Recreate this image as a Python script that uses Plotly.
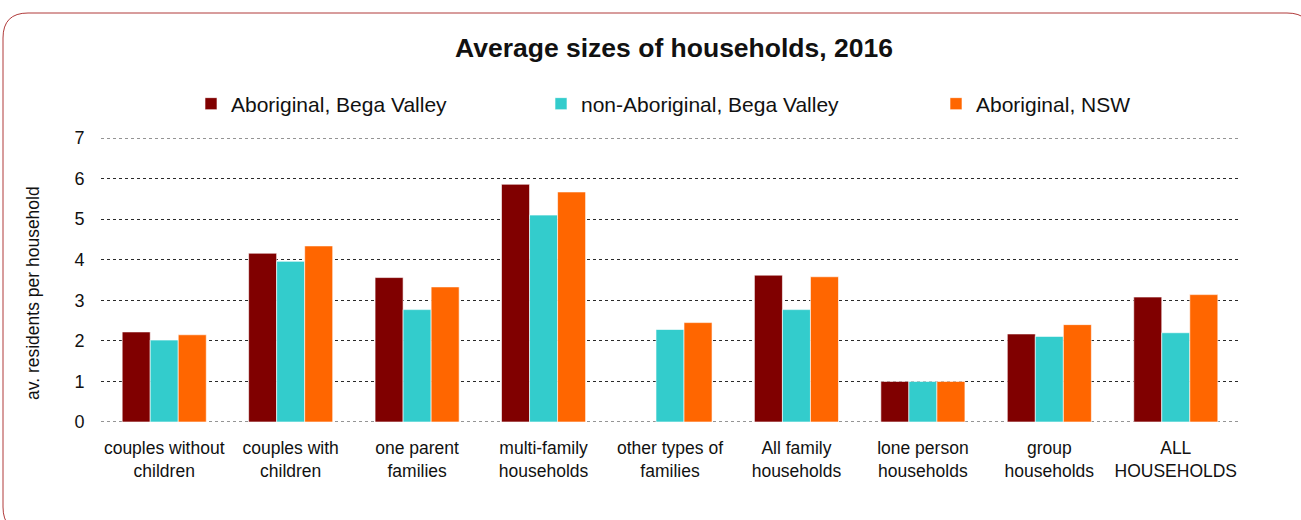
import plotly.graph_objects as go

categories = [
    "couples without<br>children",
    "couples with<br>children",
    "one parent<br>families",
    "multi-family<br>households",
    "other types of<br>families",
    "All family<br>households",
    "lone person<br>households",
    "group<br>households",
    "ALL<br>HOUSEHOLDS",
]
aboriginal_bega = [2.22, 4.16, 3.56, 5.86, None, 3.62, 1.00, 2.17, 3.08]
non_aboriginal_bega = [2.02, 3.96, 2.77, 5.10, 2.28, 2.77, 1.00, 2.11, 2.20]
aboriginal_nsw = [2.15, 4.34, 3.33, 5.67, 2.45, 3.58, 1.00, 2.40, 3.14]

series_names = ["Aboriginal, Bega Valley", "non-Aboriginal, Bega Valley", "Aboriginal, NSW"]
series_values = [aboriginal_bega, non_aboriginal_bega, aboriginal_nsw]
colors = ["#800000", "#33CCCC", "#FF6600"]
legend_ids = ["legend", "legend2", "legend3"]
y_ticks = [0, 1, 2, 3, 4, 5, 6, 7]

FONT = "Liberation Sans, Arial, sans-serif"

fig = go.Figure()
for name, vals, col, lg in zip(series_names, series_values, colors, legend_ids):
    fig.add_trace(go.Bar(
        x=categories, y=vals, name=name, legend=lg,
        marker=dict(color=col, line=dict(color="rgba(255,255,255,0.6)", width=1)),
    ))

# plot area in pixels: x 101..1239, y 138..422
W, H = 1301, 520
L, R, T, B = 101, 62, 138, 98
pw, ph = W - L - R, H - T - B

def px(x):
    return (x - L) / pw

def py(y):
    return (H - B - y) / ph

x0, x1, yt, yb = px(3), px(1312), py(13), py(532)
rx, ry = 25 / pw, 25 / ph
border = (f"M {x0+rx},{yt} L {x1-rx},{yt} Q {x1},{yt} {x1},{yt-ry} "
          f"L {x1},{yb+ry} Q {x1},{yb} {x1-rx},{yb} L {x0+rx},{yb} "
          f"Q {x0},{yb} {x0},{yb+ry} L {x0},{yt-ry} Q {x0},{yt} {x0+rx},{yt} Z")

legend_common = dict(orientation="h", yanchor="middle", y=py(104), xanchor="left",
                     font=dict(family=FONT, size=21, color="#111"),
                     bgcolor="rgba(0,0,0,0)", itemwidth=30)

grid_color = "#2a2a2a"
grid_style = dict(color=grid_color, width=1, dash="dot")
edge_lines = [dict(type="line", xref="paper", yref="y", x0=0, x1=1, y0=v, y1=v,
                   line=grid_style, layer="below") for v in (y_ticks[0], y_ticks[-1])]

fig.update_layout(
    width=W, height=H,
    margin=dict(l=L, r=R, t=T, b=B, autoexpand=False),
    paper_bgcolor="white", plot_bgcolor="white",
    showlegend=True,
    title=dict(text="<b>Average sizes of households, 2016</b>", xref="container",
               x=674 / W, xanchor="center", y=1 - 48 / H, yanchor="middle",
               font=dict(family=FONT, size=26.5, color="#111")),
    barmode="group", bargap=0.335, bargroupgap=0,
    legend=dict(legend_common, x=px(191)),
    legend2=dict(legend_common, x=px(541)),
    legend3=dict(legend_common, x=px(936)),
    xaxis=dict(tickfont=dict(family=FONT, size=17.5, color="#111"), showline=False,
               ticks="outside", ticklen=10, tickcolor="rgba(0,0,0,0)"),
    yaxis=dict(range=[0, 7], tickvals=y_ticks, showgrid=True, gridcolor=grid_color, griddash="dot",
               gridwidth=1, zeroline=False, showline=False,
               ticks="outside", ticklen=12, tickcolor="rgba(0,0,0,0)",
               tickfont=dict(family=FONT, size=18, color="#111")),
    annotations=[dict(text="av. residents per household", xref="paper", yref="paper",
                      x=px(33), y=py(293), xanchor="center", yanchor="middle",
                      textangle=-90, showarrow=False,
                      font=dict(family=FONT, size=17.5, color="#111"))],
    shapes=edge_lines + [dict(type="path", xref="paper", yref="paper", path=border,
                 line=dict(color="#B03A3A", width=1), fillcolor="rgba(0,0,0,0)", layer="below")],
)

fig.write_html("out.html", config={"displayModeBar": False},
               post_script="document.body.style.margin='0';document.body.style.padding='0';")
